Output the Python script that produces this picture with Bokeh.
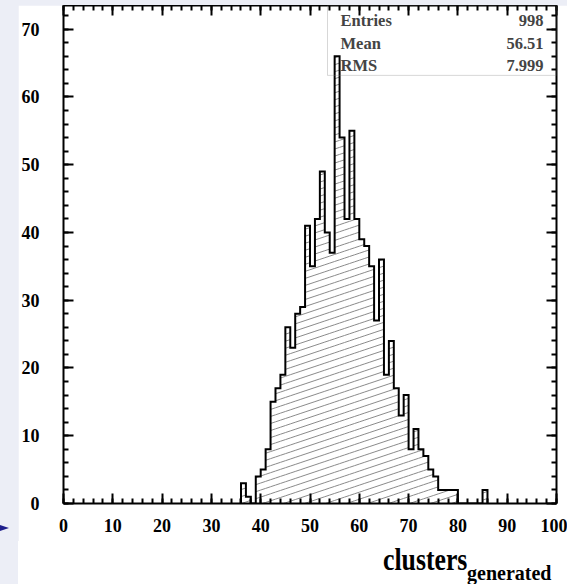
import numpy as np
from bokeh.plotting import figure
from bokeh.models import LinearAxis, SingleIntervalTicker, Label, BoxAnnotation, Div
from bokeh.layouts import column
from bokeh.embed import file_html
from bokeh.resources import INLINE

# ---- data ----
bin_lo = list(range(36, 86))
counts = [3, 1, 0, 4, 5, 8, 15, 17, 19, 26,
          23, 28, 29, 41, 35, 42, 49, 40, 37, 66,
          54, 42, 55, 42, 39, 38, 35, 27, 36, 19,
          24, 17, 13, 16, 8, 11, 8, 7, 5, 4,
          2, 2, 2, 2, 0, 0, 0, 0, 0, 2]
bin_width = 1
x_ticks = list(range(0, 101, 10))
y_ticks = list(range(0, 71, 10))
stat_names = ["Entries", "Mean", "RMS"]
stat_values = ["998", "56.51", "7.999"]
x_title = "clusters"
x_title_sub = "generated"

XMIN, XMAX = 0, 100
YMIN, YMAX = 0, 73.5
FRAME_W, FRAME_H = 493, 496
FONT = "Liberation Serif"
BG = "#eceef6"

p = figure(width=549, height=536, x_range=(XMIN, XMAX), y_range=(YMIN, YMAX),
           output_backend="svg", toolbar_location=None,
           min_border_left=45, min_border_right=11, min_border_top=0,
           min_border_bottom=38, x_axis_location=None, y_axis_location=None)
p.margin = (5, 0, 0, 18)
p.background_fill_color = "white"
p.border_fill_color = "white"
p.outline_line_color = None
p.xgrid.visible = False
p.ygrid.visible = False


def style_axis(ax, show_labels):
    ax.axis_line_width = 2
    ax.axis_line_color = "black"
    ax.major_tick_in = 10
    ax.major_tick_out = 0
    ax.minor_tick_in = 5
    ax.minor_tick_out = 0
    ax.major_tick_line_width = 2
    ax.minor_tick_line_width = 2
    ax.major_tick_line_color = "black"
    ax.minor_tick_line_color = "black"
    if show_labels:
        ax.major_label_text_font = FONT
        ax.major_label_text_font_style = "bold"
        ax.major_label_text_font_size = "18px"
        ax.major_label_text_color = "black"
    else:
        ax.major_label_text_color = None
        ax.major_label_text_font_size = "1px"
        ax.major_label_standoff = 0


for loc in ["below", "above"]:
    ax = LinearAxis(ticker=SingleIntervalTicker(interval=10, num_minor_ticks=5))
    style_axis(ax, loc == "below")
    if loc == "below":
        ax.major_label_standoff = 15
    p.add_layout(ax, loc)
for loc in ["left", "right"]:
    ax = LinearAxis(ticker=SingleIntervalTicker(interval=10, num_minor_ticks=5))
    style_axis(ax, loc == "left")
    if loc == "left":
        ax.major_label_standoff = 24
    p.add_layout(ax, loc)

# ---- hatching (derived from the histogram bins) ----
sx = FRAME_W / (XMAX - XMIN)
sy = FRAME_H / (YMAX - YMIN)
slope = (1.0 / 3.0) * sx / sy
gap = 7.0 / sy
cs = np.arange(-slope * XMAX - gap, YMAX + gap, gap)
hx0, hy0, hx1, hy1 = [], [], [], []
for lo, h in zip(bin_lo, counts):
    if h <= 0:
        continue
    hi = lo + bin_width
    for c in cs:
        xa = max(lo, -c / slope)
        xb = min(hi, (h - c) / slope)
        if xb > xa:
            hx0.append(xa); hy0.append(slope * xa + c)
            hx1.append(xb); hy1.append(slope * xb + c)
p.segment(hx0, hy0, hx1, hy1, line_color="#8a8a8a", line_width=1)

# ---- outline ----
ox, oy = [bin_lo[0]], [0]
for lo, c in zip(bin_lo, counts):
    ox += [lo, lo + bin_width]
    oy += [c, c]
ox.append(bin_lo[-1] + bin_width)
oy.append(0)
p.line(ox, oy, line_color="black", line_width=2, line_join="miter")

# ---- stats box ----
p.add_layout(BoxAnnotation(left=(327 - 63) / sx, bottom=(502.7 - 76.3) / sy,
                           fill_color=None, line_color="#7a7a7a", line_width=1))
for i, (n, v) in enumerate(zip(stat_names, stat_values)):
    yy = FRAME_H - 13 - i * 22.5
    p.add_layout(Label(x=277, y=yy, x_units="screen", y_units="screen", text=n,
                       text_font=FONT, text_font_style="bold", text_font_size="16.5px",
                       text_baseline="middle", text_align="left"))
    p.add_layout(Label(x=480, y=yy, x_units="screen", y_units="screen", text=v,
                       text_font=FONT, text_font_style="bold", text_font_size="16.5px",
                       text_baseline="middle", text_align="right"))

# ---- axis title (HTML text below the plot) ----
title_html = (
    "<div style=\"position:relative;width:567px;height:43px;overflow:visible\">"
    "<div style=\"position:absolute;left:18px;top:0;width:549px;height:43px;background:white\"></div>"
    "<div style=\"position:absolute;left:0;top:-16px;width:0;height:0;"
    "border-top:3px solid transparent;border-bottom:3px solid transparent;"
    "border-left:9px solid #1e1e8c\"></div>"
    f"<span style=\"position:absolute;left:383px;top:3px;font-family:'{FONT}';font-weight:bold;"
    f"font-size:31px;line-height:31px;white-space:nowrap;color:black;"
    f"transform:scaleX(0.83);transform-origin:0 50%\">{x_title}</span>"
    f"<span style=\"position:absolute;left:467px;top:22px;font-family:'{FONT}';font-weight:bold;"
    f"font-size:20px;line-height:20px;white-space:nowrap;color:black\">{x_title_sub}</span>"
    "</div>"
)
title_div = Div(text=title_html, width=567, height=43, margin=(0, 0, 0, 0))

layout = column(p, title_div, styles={"background-color": BG})
open("out.html", "w").write(file_html(layout, INLINE))
